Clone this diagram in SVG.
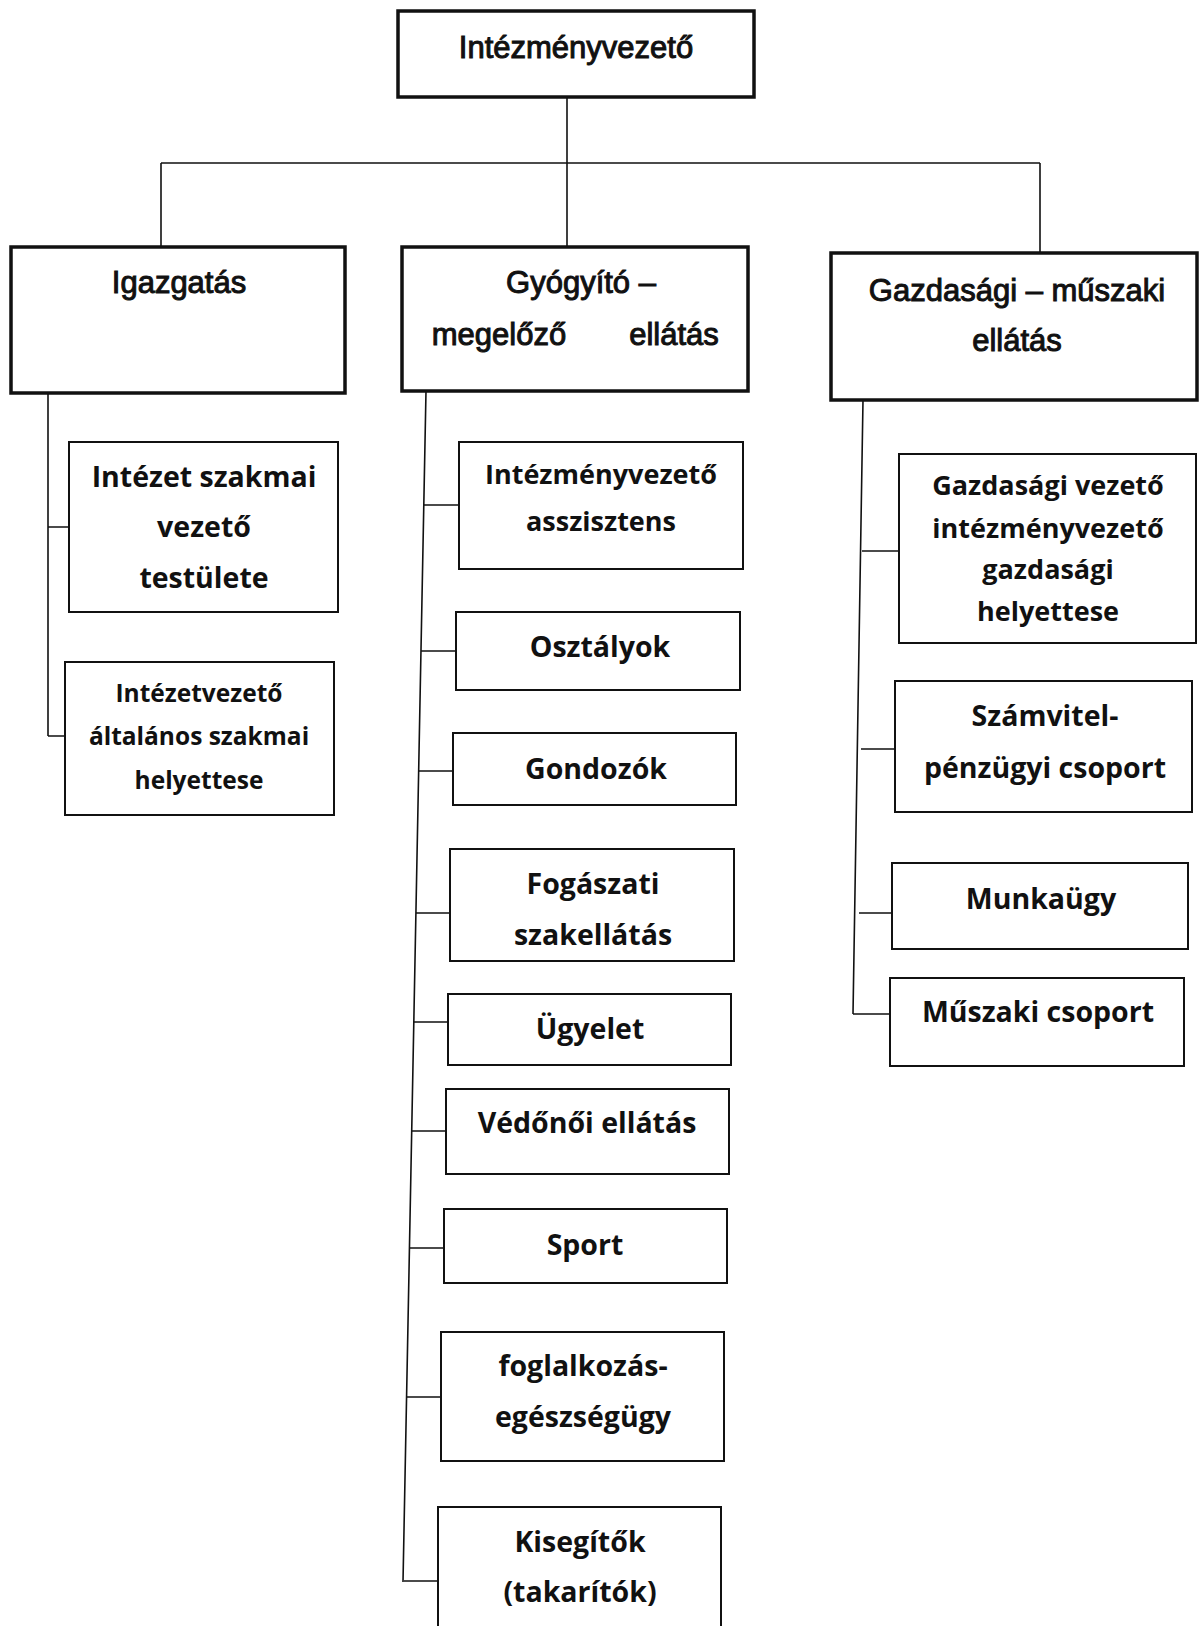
<svg xmlns="http://www.w3.org/2000/svg" width="1200" height="1626" viewBox="0 0 1200 1626">
<style>
.bg{fill:#fff}
.b1{fill:#fff;stroke:#111;stroke-width:3.5}
.b2{fill:#fff;stroke:#111;stroke-width:2}
.c{fill:none;stroke:#111;stroke-width:1.6}
.t1{font-family:"Liberation Sans",Arial,sans-serif;font-size:31px;fill:#111;stroke:#111;stroke-width:1;text-anchor:middle}
.t2{font-family:"Open Sans","DejaVu Sans",sans-serif;font-weight:700;font-size:28.5px;fill:#111;text-anchor:middle}
.t3{font-family:"Open Sans","DejaVu Sans",sans-serif;font-weight:700;font-size:27px;fill:#111;text-anchor:middle}
.t4{font-family:"Open Sans","DejaVu Sans",sans-serif;font-weight:700;font-size:24.5px;fill:#111;text-anchor:middle}
</style>
<rect class="bg" x="0" y="0" width="1200" height="1626"/>
<g id="connectors">
<path class="c" d="M567,97 V163 M161,163 H1040 M161,163 V247 M567,163 V247 M1040,163 V253"/>
<path class="c" d="M48,393 V736 M48,527 H69 M48,736 H65"/>
<path class="c" d="M426,391 L403,1582 M423,505 H459 M421,651 H456 M419,771 H453 M416,913 H450 M414,1022 H448 M412,1131 H446 M410,1248 H444 M407,1397 H441 M404,1581 H438"/>
<path class="c" d="M863,400 L853,1014 M862,551 H899 M861,749 H895 M859,913 H892 M853,1014 H890"/>
</g>
<g id="n-top"><rect class="b1" x="398" y="11" width="356" height="86"/><text class="t1" x="576" y="58">Intézményvezető</text></g>
<g id="n-igazgatas"><rect class="b1" x="11" y="247" width="334" height="146"/><text class="t1" x="179" y="293">Igazgatás</text></g>
<g id="n-gyogyito"><rect class="b1" x="402" y="247" width="346" height="144"/><text class="t1" x="581" y="293">Gyógyító –</text><text class="t1" x="499" y="345">megelőző</text><text class="t1" x="674" y="345">ellátás</text></g>
<g id="n-gazdasagi"><rect class="b1" x="831" y="253" width="366" height="147"/><text class="t1" x="1017" y="301">Gazdasági – műszaki</text><text class="t1" x="1017" y="351">ellátás</text></g>
<g id="n-szakmai-testulet"><rect class="b2" x="69" y="442" width="269" height="170"/><text class="t2" x="204" y="487">Intézet szakmai</text><text class="t2" x="204" y="537">vezető</text><text class="t2" x="204" y="588">testülete</text></g>
<g id="n-helyettes"><rect class="b2" x="65" y="662" width="269" height="153"/><text class="t4" x="199" y="702">Intézetvezető</text><text class="t4" x="199" y="745">általános  szakmai</text><text class="t4" x="199" y="789">helyettese</text></g>
<g id="n-asszisztens"><rect class="b2" x="459" y="442" width="284" height="127"/><text class="t3" x="601" y="484">Intézményvezető</text><text class="t3" x="601" y="531">asszisztens</text></g>
<g id="n-osztalyok"><rect class="b2" x="456" y="612" width="284" height="78"/><text class="t2" x="600" y="657">Osztályok</text></g>
<g id="n-gondozok"><rect class="b2" x="453" y="733" width="283" height="72"/><text class="t2" x="596" y="779">Gondozók</text></g>
<g id="n-fogaszat"><rect class="b2" x="450" y="849" width="284" height="112"/><text class="t2" x="593" y="894">Fogászati</text><text class="t2" x="593" y="945">szakellátás</text></g>
<g id="n-ugyelet"><rect class="b2" x="448" y="994" width="283" height="71"/><text class="t2" x="590" y="1039">Ügyelet</text></g>
<g id="n-vedonoi"><rect class="b2" x="446" y="1089" width="283" height="85"/><text class="t2" x="587" y="1133">Védőnői ellátás</text></g>
<g id="n-sport"><rect class="b2" x="444" y="1209" width="283" height="74"/><text class="t2" x="585" y="1255">Sport</text></g>
<g id="n-foglalkozas"><rect class="b2" x="441" y="1332" width="283" height="129"/><text class="t2" x="583" y="1376">foglalkozás-</text><text class="t2" x="583" y="1427">egészségügy</text></g>
<g id="n-kisegitok"><rect class="b2" x="438" y="1507" width="283" height="130"/><text class="t2" x="580" y="1552">Kisegítők</text><text class="t2" x="580" y="1602">(takarítók)</text></g>
<g id="n-gazd-vezeto"><rect class="b2" x="899" y="454" width="297" height="189"/><text class="t3" x="1048" y="495">Gazdasági vezető</text><text class="t3" x="1048" y="538">intézményvezető</text><text class="t3" x="1048" y="579">gazdasági</text><text class="t3" x="1048" y="621">helyettese</text></g>
<g id="n-szamvitel"><rect class="b2" x="895" y="681" width="297" height="131"/><text class="t2" x="1045" y="726">Számvitel-</text><text class="t2" x="1045" y="778">pénzügyi csoport</text></g>
<g id="n-munkaugy"><rect class="b2" x="892" y="863" width="296" height="86"/><text class="t2" x="1041" y="909">Munkaügy</text></g>
<g id="n-muszaki"><rect class="b2" x="890" y="978" width="294" height="88"/><text class="t2" x="1038" y="1022">Műszaki csoport</text></g>
</svg>
